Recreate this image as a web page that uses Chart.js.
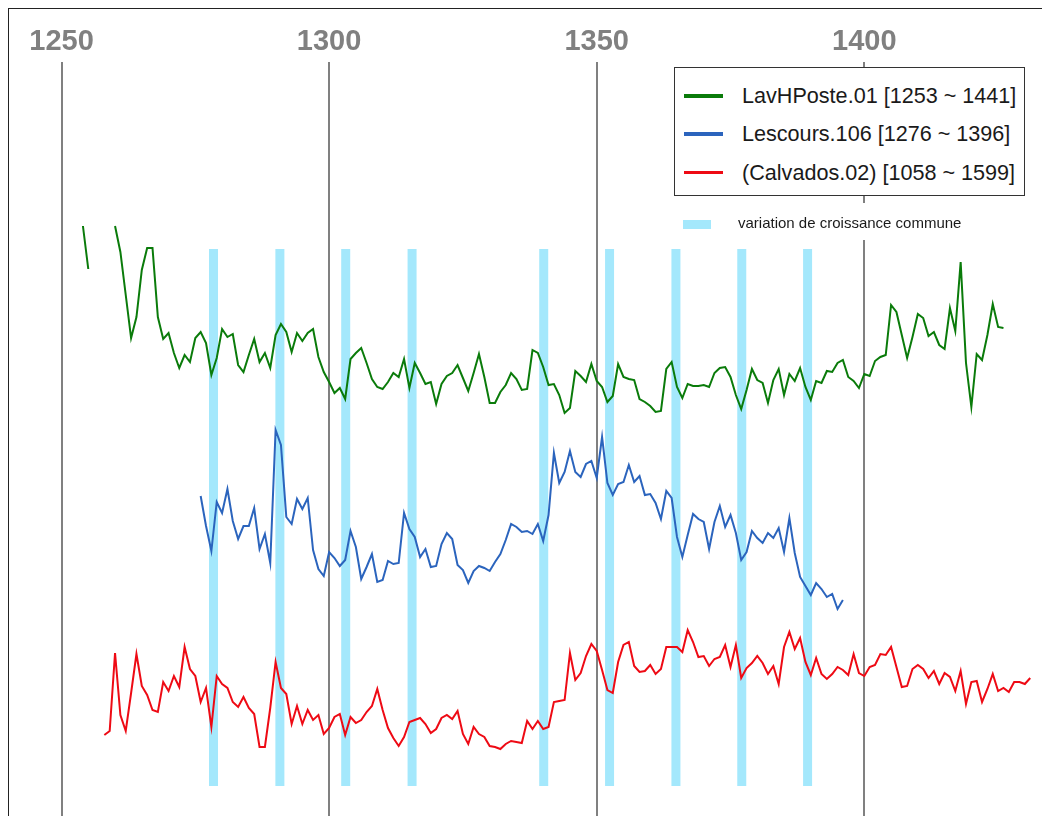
<!DOCTYPE html>
<html>
<head>
<meta charset="utf-8">
<script src="https://cdn.jsdelivr.net/npm/chart.js@4.4.0/dist/chart.umd.min.js"></script>
<style>
  html, body { margin: 0; padding: 0; background: #fff; overflow: hidden; }
  #wrap { position: relative; width: 1042px; height: 816px; }
  #frame { position: absolute; left: 8px; top: 8px; width: 1100px; height: 900px;
           border-left: 1.5px solid #222; border-top: 1.5px solid #222; }
  #chart { position: absolute; left: 0; top: 0; }
  .legend { position: absolute; background: #fff; font-family: "Liberation Sans", Arial, sans-serif; color: #1a1a1a; }
  #legendBox { left: 674px; top: 67px; width: 349px; height: 127px; border: 1.5px solid #333; }
  #legendBand { left: 674px; top: 203px; width: 352px; height: 37px; }
  .item { position: absolute; left: 0; height: 30px; width: 100%; }
  .item .swatch { position: absolute; left: 9px; top: 13px; width: 39px; height: 3.5px; }
  .item .label { position: absolute; left: 67px; top: 2px; font-size: 21.6px; line-height: 26px; white-space: nowrap; }
</style>
</head>
<body>
<div id="wrap">
  <div id="frame"></div>
  <canvas id="chart" width="1042" height="816"></canvas>
  <div id="legendBox" class="legend"></div>
  <div id="legendBand" class="legend">
    <div style="position:absolute;left:9px;top:17px;width:28px;height:9px;background:#a4e8fc"></div>
    <div style="position:absolute;left:64px;top:11px;font-size:15px;line-height:18px;white-space:nowrap">variation de croissance commune</div>
  </div>
</div>
<script>
// x axis labels (years)
const tickYears = [1250, 1300, 1350, 1400];

// series names, colours and first year
const seriesNames = ["LavHPoste.01 [1253 ~ 1441]", "Lescours.106 [1276 ~ 1396]", "(Calvados.02) [1058 ~ 1599]"];
const seriesColors = ["#0a7b0a", "#2b64bd", "#ee0a14"];
const seriesStart = [1254, 1276, 1258];

// ring-width curves (arbitrary vertical units, series stacked one above the other)
const lavHPoste = [590, 547, null, null, null, null,
  590, 564, 521, 478, 499, 546, 568, 568, 499, 477,
  483, 463, 448, 461, 454, 478, 484, 473, 441, 458,
  487, 479, 482, 451, 444, 461, 477, 454, 463, 448,
  481, 492, 484, 464, 483, 475, 483, 487, 459, 444,
  434, 423, 428, 417, 457, 463, 468, 453, 437, 429,
  427, 434, 443, 439, 457, 428, 453, 443, 432, 434,
  412, 432, 440, 443, 451, 438, 425, 443, 462, 439,
  413, 413, 424, 431, 443, 437, 426, 427, 466, 463,
  449, 431, 432, 421, 403, 408, 445, 440, 434, 452,
  435, 429, 414, 420, 452, 439, 437, 436, 417, 414,
  410, 404, 405, 447, 454, 429, 418, 432, 430, 430,
  431, 429, 443, 448, 449, 439, 421, 407, 426, 447,
  436, 433, 413, 436, 447, 421, 442, 435, 448, 429,
  416, 435, 433, 445, 444, 453, 456, 439, 435, 428,
  442, 440, 455, 459, 461, 511, 504, 481, 458, 479,
  502, 498, 480, 484, 471, 467, 508, 485, 554, 453,
  409, 462, 456, 481, 512, 489, 488];

const lescours = [320, 290, 265, 314,
  303, 327, 295, 277, 290, 290, 308, 267, 282, 253,
  386, 371, 299, 292, 317, 307, 318, 266, 247, 240,
  264, 258, 250, 256, 285, 269, 237, 249, 262, 234,
  236, 255, 252, 253, 303, 287, 279, 259, 267, 249,
  250, 272, 283, 277, 251, 246, 233, 245, 250, 248,
  245, 254, 262, 276, 292, 289, 284, 285, 282, 292,
  275, 301, 363, 333, 344, 365, 344, 339, 352, 355,
  338, 379, 333, 321, 332, 334, 351, 334, 340, 321,
  322, 313, 297, 325, 318, 279, 259, 281, 302, 297,
  294, 267, 294, 310, 289, 301, 283, 256, 264, 285,
  278, 273, 283, 278, 288, 264, 298, 263, 239, 230,
  221, 233, 227, 219, 222, 207, 216];

const calvados = [81, 85,
  163, 101, 85, 123, 162, 130, 121, 106, 104, 134,
  125, 140, 129, 169, 147, 140, 114, 128, 89, 140,
  132, 128, 114, 109, 119, 108, 102, 69, 69, 108,
  154, 128, 122, 92, 110, 92, 106, 96, 101, 82,
  88, 99, 102, 81, 99, 93, 96, 104, 110, 127,
  106, 88, 78, 70, 79, 94, 96, 98, 92, 83,
  87, 98, 101, 97, 105, 82, 72, 89, 82, 79,
  70, 69, 67, 72, 75, 74, 73, 95, 87, 95,
  87, 89, 114, 115, 116, 163, 136, 143, 160, 172,
  165, 146, 126, 123, 154, 171, 174, 150, 144, 145,
  151, 142, 147, 169, 169, 169, 164, 186, 174, 159,
  160, 150, 157, 159, 171, 149, 171, 138, 148, 153,
  160, 153, 142, 150, 132, 169, 184, 167, 178, 154,
  141, 158, 142, 137, 142, 149, 146, 141, 162, 143,
  140, 149, 151, 162, 161, 169, 149, 129, 130, 147,
  151, 147, 138, 145, 132, 143, 139, 125, 145, 112,
  134, 135, 114, 127, 142, 125, 128, 124, 134, 134,
  132, 138];

// years of common growth variation (cyan bands)
const bandYears = [1278.4, 1290.8, 1303.1, 1315.5, 1340.1, 1352.4, 1364.8, 1377.1, 1389.4];
const bandTop = 567;
const bandBottom = 30;

function toPoints(start, values) {
  return values.map((v, i) => ({ x: start + i, y: v }));
}

// one dataset for all bands, split by null points
const bandPoints = [];
bandYears.forEach(yr => {
  bandPoints.push({ x: yr, y: bandTop }, { x: yr, y: bandBottom }, { x: yr, y: null });
});

const seriesValues = [lavHPoste, lescours, calvados];
const datasets = seriesValues.map((vals, i) => ({
  label: seriesNames[i],
  data: toPoints(seriesStart[i], vals),
  borderColor: seriesColors[i],
  borderWidth: 2,
  pointRadius: 0,
  tension: 0,
  spanGaps: false
}));
datasets.push({
  label: "variation de croissance commune",
  data: bandPoints,
  borderColor: "#a4e8fc",
  borderWidth: 9,
  borderCapStyle: "butt",
  pointRadius: 0,
  spanGaps: false
});

new Chart(document.getElementById("chart").getContext("2d"), {
  type: "line",
  data: { datasets },
  options: {
    responsive: false,
    animation: false,
    layout: { padding: { left: 8, top: 21.2, right: 0, bottom: 0 } },
    plugins: { legend: { display: false }, tooltip: { enabled: false } },
    scales: {
      x: {
        type: "linear",
        position: "top",
        min: 1240,
        max: 1433.2,
        afterBuildTicks: axis => { axis.ticks = tickYears.map(v => ({ value: v })); },
        grid: { color: "#808080", lineWidth: 2, drawTicks: false },
        border: { display: false },
        ticks: {
          color: "#808080",
          padding: 3,
          font: { family: "'Liberation Sans', Arial, sans-serif", size: 29, weight: "bold" },
          callback: v => String(v)
        }
      },
      y: { display: false, min: 0, max: 754 }
    }
  }
});

// legend box
const legendBox = document.getElementById("legendBox");
seriesNames.forEach((name, i) => {
  const item = document.createElement("div");
  item.className = "item";
  item.style.top = (13 + i * 38.4) + "px";
  item.innerHTML = '<div class="swatch"></div><div class="label"></div>';
  item.querySelector(".swatch").style.background = seriesColors[i];
  item.querySelector(".label").textContent = name;
  legendBox.appendChild(item);
});
</script>
</body>
</html>
